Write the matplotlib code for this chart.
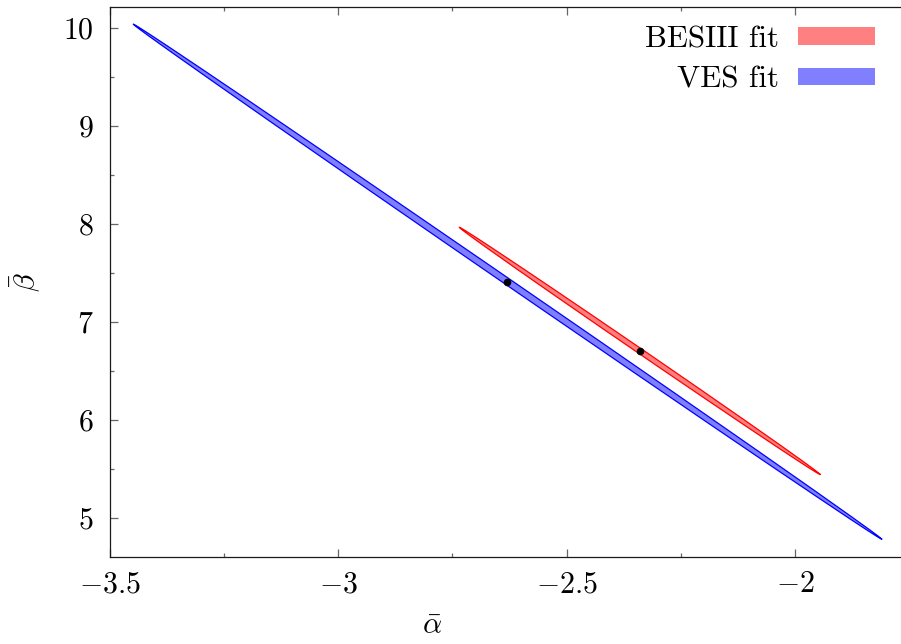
import numpy as np
import matplotlib
matplotlib.use('Agg')
import matplotlib.pyplot as plt
from matplotlib.patches import Patch
from matplotlib.ticker import FuncFormatter, MultipleLocator

plt.rcParams['font.family'] = 'serif'
plt.rcParams['font.serif'] = ['cmr10']
plt.rcParams['mathtext.fontset'] = 'cm'
plt.rcParams['font.size'] = 21.5

# fit ellipses: centre, semi-major half-vector, semi-minor half-vector (data units)
names = ['BESIII fit', 'VES fit']
colors = ['red', 'blue']
legend_colors = ['#ff8080', '#8080ff']
centers = [(-2.340, 6.703), (-2.6295, 7.409)]
major = [(0.395, -1.260), (0.8195, -2.626)]
minor = [(-0.0032, -0.0219), (-0.0041, -0.0278)]

xlim = (-3.5, -1.75)
ylim = (4.60, 10.21)
xticks = [-3.5, -3.0, -2.5, -2.0]
yticks = [5, 6, 7, 8, 9, 10]

fig = plt.figure(figsize=(9.01, 6.44), dpi=100)
# right edge of the frame lies just outside the image
ax = fig.add_axes([110 / 901, 87 / 644, 799 / 901, 550 / 644])

t = np.linspace(0, 2 * np.pi, 400)
for c, M, m, col in zip(centers, major, minor, colors):
    x = c[0] + M[0] * np.cos(t) + m[0] * np.sin(t)
    y = c[1] + M[1] * np.cos(t) + m[1] * np.sin(t)
    ax.fill(x, y, facecolor=col, alpha=0.5, edgecolor='none', zorder=2)
    ax.plot(x, y, color=col, lw=0.9, zorder=3)

for c in centers:
    ax.plot(c[0], c[1], 'o', color='black', markersize=4.5, zorder=4)

ax.set_xlim(*xlim)
ax.set_ylim(*ylim)
ax.set_xticks(xticks)
ax.set_yticks(yticks)
ax.xaxis.set_minor_locator(MultipleLocator(0.25))
ax.yaxis.set_minor_locator(MultipleLocator(0.5))
fmt = FuncFormatter(lambda v, p: '$%g$' % v)
ax.xaxis.set_major_formatter(fmt)
ax.yaxis.set_major_formatter(fmt)

ax.tick_params(which='both', direction='in', top=True, right=True,
               color='0.4', width=0.9)
ax.tick_params(which='major', length=5.5)
ax.tick_params(which='minor', length=3)
ax.tick_params(axis='x', which='major', pad=10)
ax.tick_params(axis='y', which='major', pad=12)
for s in ax.spines.values():
    s.set_linewidth(0.9)
    s.set_color('0.1')

ax.set_xlabel(r'$\bar{\alpha}$')
ax.set_ylabel(r'$\bar{\beta}$')
ax.xaxis.set_label_coords(0.403, -0.102)
ax.yaxis.set_label_coords(-0.084, 0.5)

handles = [Patch(facecolor=lc, edgecolor='none') for lc in legend_colors]
ax.legend(handles, names, loc='upper right', frameon=False, markerfirst=False,
          fontsize=22.3, handlelength=2.5, handleheight=0.5, handletextpad=0.6,
          labelspacing=0.4, borderaxespad=0.1,
          bbox_to_anchor=(0.9885, 0.985), bbox_transform=fig.transFigure)

fig.savefig('out.png', dpi=100)
